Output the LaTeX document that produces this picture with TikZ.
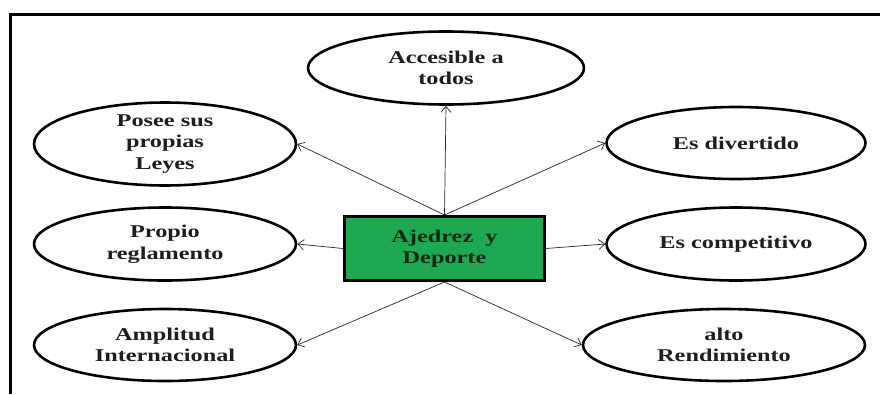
\documentclass[tikz,border=0pt]{standalone}
\usepackage{fontspec}
\setmainfont[FakeStretch=1.35]{Liberation Serif}
\usetikzlibrary{shapes.geometric,arrows.meta}
\definecolor{boxgreen}{RGB}{30,168,82}
\definecolor{ink}{RGB}{30,30,30}
\definecolor{darkink}{RGB}{12,40,18}
\tikzset{
  bubble/.style={ellipse, draw=black, line width=2.6pt, fill=white,
    inner sep=0pt, align=center, text=ink,
    font=\fontsize{18}{21.5}\selectfont\bfseries},
  hub/.style={rectangle, draw=black, line width=3pt, fill=boxgreen,
    inner sep=0pt, align=center, text=darkink,
    minimum width=200pt, minimum height=64pt,
    font=\fontsize{18}{21.5}\selectfont\bfseries},
  link/.style={draw=black!85, line width=0.7pt,
    -{Straight Barb[length=6pt,width=10pt,line width=0.7pt]}},
  frame/.style={line width=3pt, draw=black}
}
\begin{document}
\begin{tikzpicture}[x=1pt,y=-1pt]
\useasboundingbox (0,0) rectangle (880,394);
% partial frame: top and left edges
\draw[frame] (10,394) -- (10,14) -- (880,14);

\node[hub] (hub) at (444.5,248.5) {Ajedrez\ \ y\\Deporte};

\node[bubble, minimum width=276pt, minimum height=73pt] (acc) at (446,68) {Accesible a\\todos};
\node[bubble, minimum width=262pt, minimum height=73pt] (posee) at (165,144) {Posee sus\\propias\\Leyes};
\node[bubble, minimum width=259pt, minimum height=72pt] (div) at (736,143) {Es divertido};
\node[bubble, minimum width=262pt, minimum height=73pt] (prop) at (165,244) {Propio\\reglamento};
\node[bubble, minimum width=259pt, minimum height=73pt] (comp) at (736,244) {Es competitivo};
\node[bubble, minimum width=262pt, minimum height=72pt] (ampl) at (165,345) {Amplitud\\Internacional};
\node[bubble, minimum width=282pt, minimum height=72pt] (alto) at (724,345) {alto\\Rendimiento};

\draw[link] (hub.north) -- (acc.south);
\draw[link] (hub.north) -- (posee.east);
\draw[link] (hub.north) -- (div.west);
\draw[link] (hub.west) -- (prop.east);
\draw[link] (hub.east) -- (comp.west);
\draw[link] (hub.south) -- (ampl.east);
\draw[link] (hub.south) -- (alto.west);
\end{tikzpicture}
\end{document}
